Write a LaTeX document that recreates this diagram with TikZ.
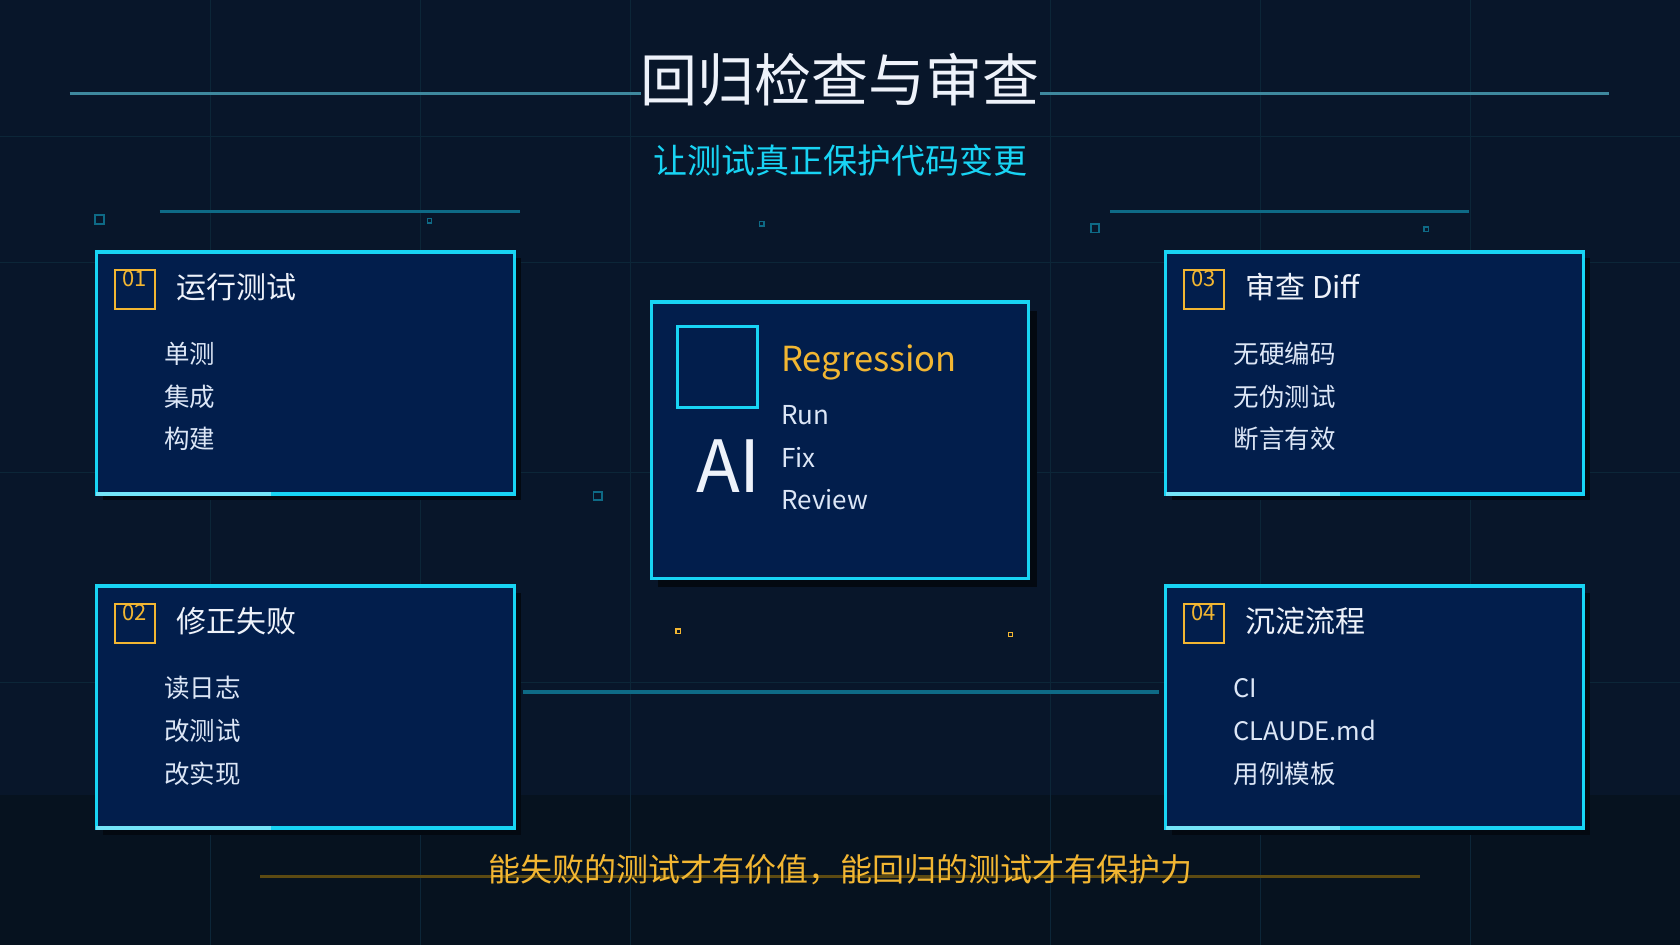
\documentclass[tikz,border=0pt]{standalone}
\usepackage{fontspec}
\setmainfont{Noto Sans CJK SC}
\newfontfamily\cjk{Noto Sans CJK SC}
\definecolor{bg}{HTML}{08162A}
\definecolor{bgb}{HTML}{06121F}
\definecolor{grid}{HTML}{0C2638}
\definecolor{boxf}{HTML}{021E4C}
\definecolor{cy}{HTML}{18D4F4}
\definecolor{cyd}{HTML}{0E6A86}
\definecolor{org}{HTML}{F2B632}
\definecolor{orgd}{HTML}{5C4A12}
\definecolor{txt}{HTML}{EEF2FA}
\definecolor{itm}{HTML}{DCE6F6}
\tikzset{
 card/.style={draw=cy, line width=3.5pt, fill=boxf},
 shad/.style={fill=black!60!bg, draw=none},
 numbox/.style={draw=org, line width=2.2pt, minimum width=40, minimum height=39, inner sep=0pt},
 numtxt/.style={text=org, font=\fontsize{22}{22}\selectfont, anchor=north, inner ysep=1pt},
 ctitle/.style={text=txt, anchor=west, font=\fontsize{30}{30}\selectfont},
 item/.style={text=itm, anchor=west, font=\fontsize{25.5}{25.5}\selectfont},
 deco/.style={draw=cyd, line width=3pt},
 dot/.style={draw=cyd, line width=1.8pt},
}
\begin{document}
\begin{tikzpicture}[x=1.07143pt,y=-1.07143pt]
\useasboundingbox (0,0) rectangle (1568,882);
\fill[bg] (0,0) rectangle (1568,882);
\fill[bgb] (0,742) rectangle (1568,882);
\foreach \x in {196,392,588,980,1176,1372} \draw[grid, line width=0.6pt] (\x,0) -- (\x,882);
\foreach \y in {127,245,441,637} \draw[grid, line width=0.6pt] (0,\y) -- (1568,\y);
% title
\coordinate (tl) at (65,87); \coordinate (tr) at (1502,87);
\draw[deco, draw=cyd!80] (tl) -- (tr);
\node[text=txt, font=\fontsize{57}{57}\selectfont, fill=bg, inner xsep=0pt, inner ysep=2pt] (title) at (784,74) {回归检查与审查};
\node[text=cy, font=\fontsize{34}{34}\selectfont] (sub) at (784,150) {让测试真正保护代码变更};
% deco lines
\coordinate (d1) at (149,197); \coordinate (d2) at (485,197);
\coordinate (d3) at (1036,197); \coordinate (d4) at (1371,197);
\draw[deco] (d1) -- (d2); \draw[deco] (d3) -- (d4);
\coordinate (m1) at (488,646); \coordinate (m2) at (1082,646);
\draw[deco, line width=3.5pt] (m1) -- (m2);
% small squares
\draw[dot] (89,201) rectangle (97,209);
\draw[dot] (1018,209) rectangle (1026,217);
\draw[dot] (554,459) rectangle (562,467);
\draw[dot, line width=1.3pt] (399,204) rectangle (403,208);
\draw[dot, line width=1.3pt] (709,207) rectangle (713,211);
\draw[dot, line width=1.3pt] (1329,212) rectangle (1333,216);
\draw[draw=org, line width=1.3pt] (631,587) rectangle (635,591);
\draw[draw=org, line width=1.3pt] (941,590) rectangle (945,594);
% cards
\foreach \x/\y/\n/\t/\a/\b/\c in {90/235/01/运行测试/单测/集成/构建, 90/547/02/修正失败/读日志/改测试/改实现, 1088/235/03/审查 Diff/无硬编码/无伪测试/断言有效, 1088/547/04/沉淀流程/CI/CLAUDE.md/用例模板}{
  \fill[shad] (\x+6,\y+6) rectangle (\x+396,\y+232);
  \draw[card] (\x,\y) rectangle (\x+390,\y+226);
  \draw[cy!60!white, line width=3.5pt] (\x,\y+226) -- (\x+163,\y+226);
  \node[numbox, anchor=north west] (n\n) at (\x+16,\y+16) {};
  \node[numtxt] at (n\n.north) {\n};
  \node[ctitle] (t\n) at (\x+71,\y+33) {\t};
  \node[item] (a\n) at (\x+60,\y+95) {\a};
  \node[item] (b\n) at (\x+60,\y+135) {\b};
  \node[item] (c\n) at (\x+60,\y+175) {\c};
}
% center
\fill[shad] (614,290) rectangle (968,548);
\draw[card] (608,282) rectangle (960,540);
\draw[cy, line width=3pt] (632,305) rectangle (707,380);
\node[text=txt, font=\fontsize{72}{72}\selectfont] (ai) at (680,435) {AI};
\node[text=org, anchor=west, font=\fontsize{34.5}{34.5}\selectfont, inner xsep=0pt] (reg) at (729,338) {Regression};
\node[item, inner xsep=0pt, font=\fontsize{26}{26}\selectfont] (run) at (729,387) {Run};
\node[item, inner xsep=0pt, font=\fontsize{26}{26}\selectfont] (fix) at (729,427) {Fix};
\node[item, inner xsep=0pt, font=\fontsize{26}{26}\selectfont] (rev) at (729,466) {Review};
% bottom
\coordinate (b1) at (243,818); \coordinate (b2) at (1325,818);
\draw[orgd, line width=3pt] (b1) -- (b2);
\node[text=org, font=\fontsize{32}{32}\selectfont] (foot) at (784,812) {能失败的测试才有价值，能回归的测试才有保护力};
\end{tikzpicture}
\end{document}
